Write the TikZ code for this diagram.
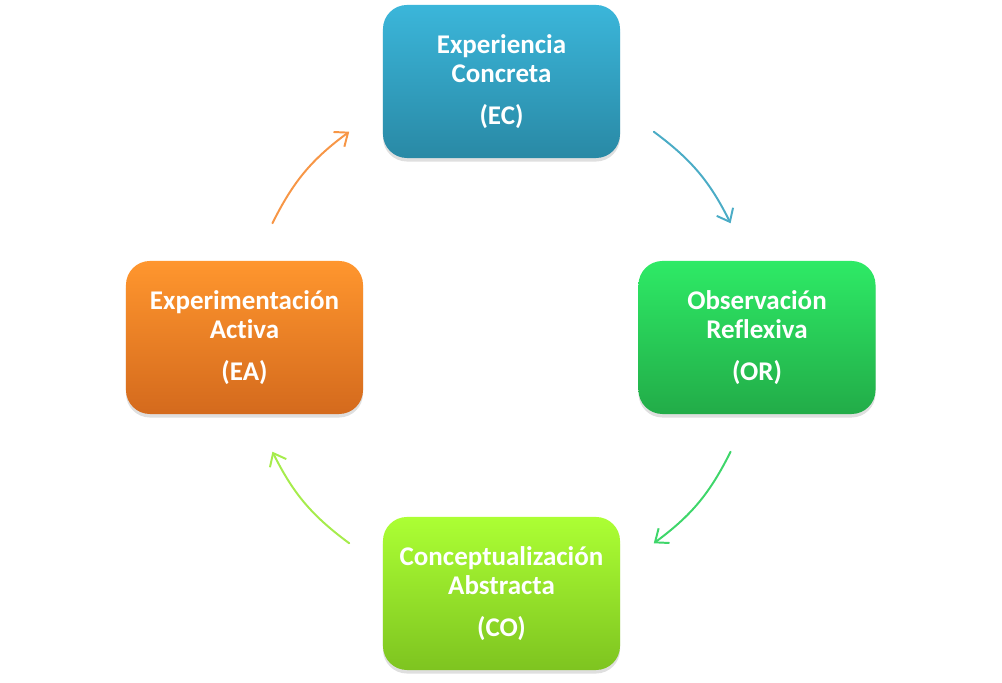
\documentclass[tikz,border=0pt]{standalone}
\usepackage{fontspec}
\setmainfont{Carlito}[Ligatures=NoCommon]
\usetikzlibrary{arrows.meta,shadows}
\definecolor{ecTop}{RGB}{59,182,218}
\definecolor{ecBot}{RGB}{41,137,165}
\definecolor{orTop}{RGB}{46,234,102}
\definecolor{orBot}{RGB}{34,172,72}
\definecolor{coTop}{RGB}{172,255,52}
\definecolor{coBot}{RGB}{126,196,32}
\definecolor{eaTop}{RGB}{255,150,46}
\definecolor{eaBot}{RGB}{212,106,29}
\definecolor{arrEC}{RGB}{75,172,198}
\definecolor{arrOR}{RGB}{62,214,106}
\definecolor{arrCO}{RGB}{166,236,76}
\definecolor{arrEA}{RGB}{247,150,70}
\begin{document}
\begin{tikzpicture}[x=0.025cm,y=0.025cm, line join=round, line cap=round,
	box/.style={rounded corners=0.6cm, minimum width=5.925cm, minimum height=3.825cm,
		align=center, text=white, font=\fontsize{19.2}{20.6}\selectfont\bfseries,
		drop shadow={opacity=0.25, shadow xshift=0pt, shadow yshift=-2.5pt}},
	flow/.style={line width=1.4pt, -{Straight Barb[length=8pt,width=13pt,line width=1.4pt]}}]
	\useasboundingbox (0,0) rectangle (1002,683);
	\coordinate (c) at (501.5,345.5);
	% the four stages
	\node[box, top color=ecTop, bottom color=ecBot] (EC) at (501.5,601.5) {Experiencia\\Concreta\\[9pt](EC)};
	\node[box, top color=orTop, bottom color=orBot] (OR) at (757,345.5) {Observación\\Reflexiva\\[9pt](OR)};
	\node[box, top color=coTop, bottom color=coBot] (CO) at (501.5,89.5) {Conceptualización\\Abstracta\\[9pt](CO)};
	\node[box, top color=eaTop, bottom color=eaBot] (EA) at (244.5,345.5) {Experimentación\\Act\kern0pt iva\\[9pt](EA)};
	% ends of the arrows on a circle round the centre
	\coordinate (EC-out) at ([shift={(53.5:256)}]c);
	\coordinate (OR-in) at ([shift={(26.5:256)}]c);
	\coordinate (OR-out) at ([shift={(-26.5:256)}]c);
	\coordinate (CO-in) at ([shift={(-53.5:256)}]c);
	\coordinate (CO-out) at ([shift={(-126.5:256)}]c);
	\coordinate (EA-in) at ([shift={(-153.5:256)}]c);
	\coordinate (EA-out) at ([shift={(153.5:256)}]c);
	\coordinate (EC-in) at ([shift={(126.5:256)}]c);
	\draw[flow,arrEC] (EC-out) to[bend left=13.5] (OR-in);
	\draw[flow,arrOR] (OR-out) to[bend left=13.5] (CO-in);
	\draw[flow,arrCO] (CO-out) to[bend left=13.5] (EA-in);
	\draw[flow,arrEA] (EA-out) to[bend left=13.5] (EC-in);
\end{tikzpicture}
\end{document}
